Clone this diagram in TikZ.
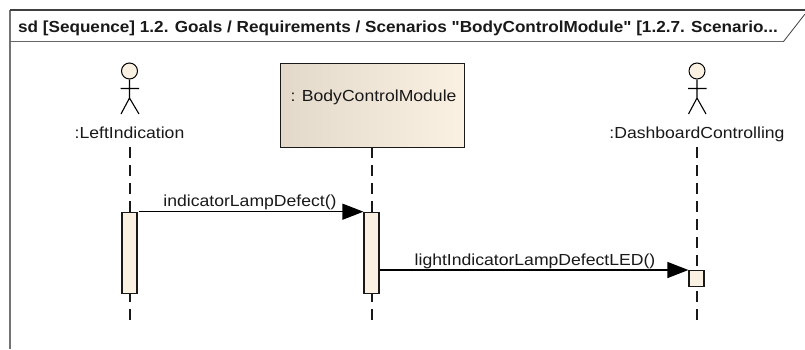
\documentclass[tikz,border=0pt]{standalone}
\usepackage{fontspec}
\setmainfont{Liberation Sans}
\newfontfamily\labfont[FakeStretch=1.1]{Liberation Sans}
\newfontfamily\titfont[FakeStretch=1.07]{Liberation Sans}
\usetikzlibrary{arrows.meta}
\definecolor{fillc}{HTML}{FBF1E3}
\definecolor{shadec}{HTML}{E3D9CB}
\tikzset{
  x=1pt,y=-1pt,
  lab/.style={inner sep=0pt,font=\labfont\fontsize{16}{18}\selectfont,text=black!90},
  titlelab/.style={inner sep=0pt,font=\titfont\fontsize{16}{18}\selectfont\bfseries,text=black!90},
  act/.style={draw=black!90,line width=1.2pt,fill=fillc,inner sep=0pt,minimum width=15pt,anchor=north},
  head/.style={circle,draw=black,line width=1pt,fill=fillc,inner sep=0pt,minimum size=16pt},
  limb/.style={draw=black,line width=1.1pt},
  life/.style={draw=black!90,line width=1.2pt,dash pattern=on 10.5pt off 7.5pt},
  msg/.style={draw=black,line width=1.3pt,-{Triangle[length=21pt,width=16pt,fill=black]}},
}
\begin{document}
\begin{tikzpicture}
\useasboundingbox (0,0) rectangle (805,349);
\fill[white] (0,0) rectangle (805,349);
% frame
\coordinate (fbl) at (10,349);
\coordinate (ftl) at (10,10);
\coordinate (ftr) at (805,10);
\coordinate (hl) at (10,41.5);
\coordinate (hr) at (783.5,41.5);
\coordinate (he) at (805,14);
\draw[draw=black!55,line width=1.1pt] (ftl) -- (fbl);
\draw[draw=black!75,line width=1.1pt] (ftl) -- (ftr);
\draw[draw=black!60,line width=1.2pt] (hl) -- (hr);
\draw[draw=black!75,line width=.8pt] (hr) -- (he);
\node[titlelab,anchor=base west] (title) at (18,32.3) {sd [Sequence] 1.2. Goals / Requirements / Scenarios "BodyControlModule" [1.2.7. Scenario...};
% actor 1
\node[head] (h1) at (129.5,71) {};
\coordinate (t1) at (129.5,98);
\coordinate (al1) at (120.5,88.5);
\coordinate (ar1) at (139,88.5);
\coordinate (ll1) at (121,114);
\coordinate (lr1) at (139,114);
\draw[limb] (h1.south) -- (t1) (al1) -- (ar1) (t1) -- (ll1) (t1) -- (lr1);
\node[lab,anchor=base] (n1) at (129.5,138.3) {:LeftIndication};
% actor 3
\node[head] (h3) at (697,71) {};
\coordinate (t3) at (697,98);
\coordinate (al3) at (688,88.5);
\coordinate (ar3) at (706.5,88.5);
\coordinate (ll3) at (688.5,114);
\coordinate (lr3) at (706,114);
\draw[limb] (h3.south) -- (t3) (al3) -- (ar3) (t3) -- (ll3) (t3) -- (lr3);
\node[lab,anchor=base] (n3) at (697,138.3) {:DashboardControlling};
% lifeline box
\node[draw=black!90,line width=1.2pt,left color=shadec,right color=fillc,inner sep=0pt,minimum width=183.5pt,minimum height=83.5pt,anchor=north west] (bcm) at (280,63) {};
\node[lab,anchor=base] (bcmt) at (373.5,101.7) {: BodyControlModule};
% lifelines
\coordinate (e1s) at (130,147);
\coordinate (e1) at (130,320);
\coordinate (e2s) at (372,147);
\coordinate (e2) at (372,320);
\coordinate (e3s) at (697,147);
\coordinate (e3) at (697,320);
\draw[life] (e1s) -- (e1);
\draw[life] (e2s) -- (e2);
\draw[life] (e3s) -- (e3);
% activations
\node[act,minimum height=81.5pt] (a1) at (129.5,211.7) {};
\node[act,minimum height=81.5pt] (a2) at (371.5,211.7) {};
\node[act,minimum height=15.5pt] (a3) at (696.5,270) {};
% messages
\draw[msg] ([xshift=1pt]a1.north east) -- (a2.north west);
\draw[msg] ([xshift=.8pt,yshift=-58.3pt]a2.north east) -- (a3.north west);
\node[lab,anchor=base] (m1) at (250,206.7) {indicatorLampDefect()};
\node[lab,anchor=base] (m2) at (535,265) {lightIndicatorLampDefectLED()};
\end{tikzpicture}
\end{document}
